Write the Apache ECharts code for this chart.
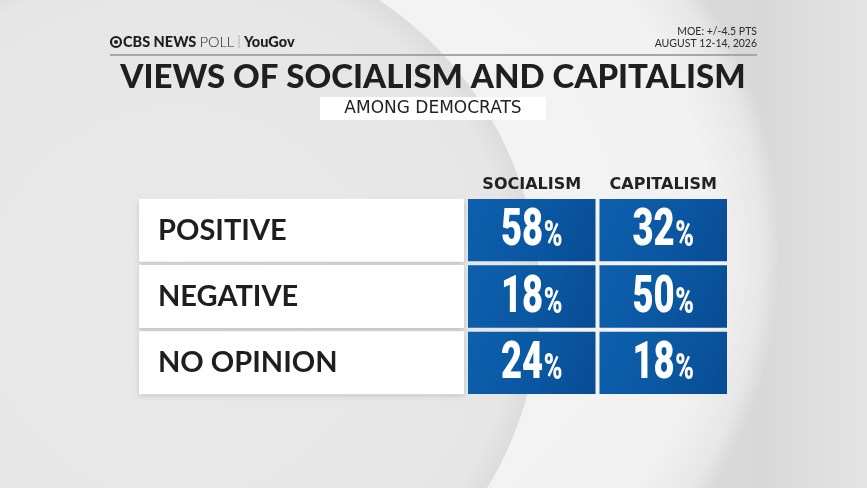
<!DOCTYPE html>
<html lang="en">
<head>
    <meta charset="UTF-8">
    <title>Views of Socialism and Capitalism</title>
    <script src="https://cdn.jsdelivr.net/npm/echarts@6/dist/echarts.min.js"></script>
    <style>
        html, body { margin: 0; padding: 0; }
        #chart { width: 867px; height: 488px; }
    </style>
</head>
<body>
    <div id="chart"></div>
    <script>
        var rowLabels = ['POSITIVE', 'NEGATIVE', 'NO OPINION'];
        var columnLabels = ['SOCIALISM', 'CAPITALISM'];
        var socialism = [58, 18, 24];
        var capitalism = [32, 50, 18];

        // [column, row, value]
        var cells = [];
        rowLabels.forEach(function (r, i) {
            cells.push([0, i, socialism[i]]);
            cells.push([1, i, capitalism[i]]);
        });

        var chart = echarts.init(document.getElementById('chart'));

        var cellFill = new echarts.graphic.LinearGradient(0, 0, 1, 1, [
            { offset: 0, color: '#0d60ae' },
            { offset: 0.6, color: '#0a56a0' },
            { offset: 1, color: '#084b94' }
        ]);

        function renderCell(params, api) {
            var c = api.coord([api.value(0), api.value(1)]);
            var s = api.size([1, 1]);
            var gap = 2;
            return {
                type: 'group',
                children: [
                    {
                        type: 'rect',
                        shape: {
                            x: c[0] - s[0] / 2 + gap,
                            y: c[1] - s[1] / 2 + gap,
                            width: s[0] - gap * 2,
                            height: s[1] - gap * 2
                        },
                        style: { fill: cellFill }
                    },
                    {
                        type: 'text',
                        x: c[0],
                        y: c[1] + 2,
                        scaleX: 0.7,
                        style: {
                            text: '{n|' + api.value(2) + '}{p|%}',
                            align: 'center',
                            verticalAlign: 'middle',
                            rich: {
                                n: { fontFamily: 'Roboto', fontWeight: 900, fontSize: 52, fill: '#fff', verticalAlign: 'middle' },
                                p: { fontFamily: 'Roboto', fontWeight: 900, fontSize: 36, fill: '#fff', verticalAlign: 'middle', padding: [10, 0, 0, 1] }
                            }
                        }
                    }
                ]
            };
        }

        var option = {
            animation: false,
            graphic: [
                // background swoosh
                { type: 'rect', z: -10, shape: { x: 0, y: 0, width: 867, height: 488 },
                  style: { fill: new echarts.graphic.LinearGradient(0, 0, 1, 0, [
                      { offset: 0, color: '#e8e8e8' }, { offset: 0.88, color: '#d8d8d8' }, { offset: 1, color: '#e4e4e4' }]) } },
                { type: 'circle', z: -9, shape: { cx: 330, cy: 250, r: 450 },
                  style: { fill: new echarts.graphic.RadialGradient(0.5, 0.5, 0.5, [
                      { offset: 0, color: '#f3f3f3' }, { offset: 0.85, color: '#f2f2f2' },
                      { offset: 0.96, color: '#e7e7e7' }, { offset: 1, color: '#dadada' }]) } },
                { type: 'circle', z: -8, shape: { cx: 180, cy: 300, r: 360 },
                  style: { fill: new echarts.graphic.RadialGradient(0.5, 0.5, 0.5, [
                      { offset: 0, color: '#e9e9e9' }, { offset: 0.93, color: '#e6e6e6' }, { offset: 1, color: '#dcdcdc' }]) } },

                // logo line
                { type: 'circle', z: 5, shape: { cx: 116, cy: 42, r: 5 }, style: { fill: 'none', stroke: '#1e1e1e', lineWidth: 2.2 } },
                { type: 'circle', z: 5, shape: { cx: 116, cy: 42, r: 2 }, style: { fill: '#1e1e1e' } },
                { type: 'text', z: 5, x: 123, y: 42,
                  style: { text: '{b|CBS NEWS} {l|POLL} {s||} {b|YouGov}', verticalAlign: 'middle', align: 'left',
                      rich: {
                          b: { fontFamily: 'Lato', fontWeight: 900, fontSize: 14.5, fill: '#1e1e1e' },
                          l: { fontFamily: 'Lato', fontWeight: 300, fontSize: 14.5, fill: '#1e1e1e' },
                          s: { fontFamily: 'Lato', fontWeight: 300, fontSize: 13, fill: '#8a8a8a' }
                      } } },
                { type: 'text', z: 5, x: 757, y: 32,
                  style: { text: 'MOE: +/-4.5 PTS', align: 'right', verticalAlign: 'middle',
                      fontFamily: 'Lato', fontSize: 10.5, fill: '#2a2a2a' } },
                { type: 'text', z: 5, x: 757, y: 44,
                  style: { text: 'AUGUST 12-14, 2026', align: 'right', verticalAlign: 'middle',
                      fontFamily: 'Lato', fontSize: 10.5, fill: '#2a2a2a' } },
                { type: 'rect', z: 5, shape: { x: 110, y: 54, width: 647, height: 2 }, style: { fill: '#a6a6a6' } },

                // title
                { type: 'text', z: 5, x: 433, y: 77,
                  style: { text: 'VIEWS OF SOCIALISM AND CAPITALISM', align: 'center', verticalAlign: 'middle',
                      fontFamily: 'Lato', fontWeight: 900, fontSize: 33, fill: '#1f1f1f' } },
                { type: 'rect', z: 5, shape: { x: 320, y: 97, width: 226, height: 23 }, style: { fill: '#ffffff' } },
                { type: 'text', z: 6, x: 433, y: 109,
                  style: { text: 'AMONG DEMOCRATS', align: 'center', verticalAlign: 'middle',
                      fontFamily: 'DejaVu Sans', fontWeight: 'normal', fontSize: 17, fill: '#222' } }
            ],
            grid: { left: 466, top: 197, width: 263, height: 199 },
            xAxis: {
                type: 'category',
                position: 'top',
                data: columnLabels,
                axisLine: { show: false },
                axisTick: { show: false },
                splitLine: { show: false },
                axisLabel: {
                    interval: 0,
                    hideOverlap: false,
                    margin: 4,
                    fontFamily: 'DejaVu Sans',
                    fontWeight: 'bold',
                    fontSize: 16,
                    color: '#222'
                }
            },
            yAxis: {
                type: 'category',
                inverse: true,
                data: rowLabels,
                axisLine: { show: false },
                axisTick: { show: false },
                splitLine: { show: false },
                axisLabel: {
                    interval: 0,
                    align: 'left',
                    margin: 327,
                    fontFamily: 'Lato',
                    fontWeight: 'bold',
                    fontSize: 29,
                    color: '#1e1e1e',
                    backgroundColor: '#ffffff',
                    width: 306,
                    height: 63,
                    lineHeight: 63,
                    padding: [0, 0, 0, 19],
                    shadowColor: 'rgba(0,0,0,0.18)',
                    shadowBlur: 5,
                    shadowOffsetY: 2
                }
            },
            series: [
                {
                    type: 'custom',
                    renderItem: renderCell,
                    data: cells,
                    encode: { x: 0, y: 1 }
                }
            ]
        };

        chart.setOption(option);

        window.addEventListener('resize', function () {
            chart.resize();
        });
    </script>
</body>
</html>
